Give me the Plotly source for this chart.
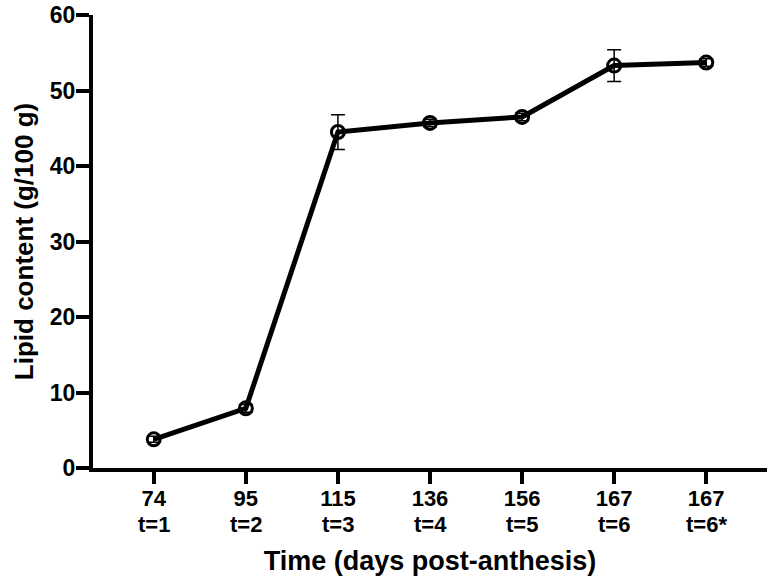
import plotly.graph_objects as go

days = ["74", "95", "115", "136", "156", "167", "167"]
stages = ["t=1", "t=2", "t=3", "t=4", "t=5", "t=6", "t=6*"]
lipid = [3.8, 7.9, 44.5, 45.7, 46.5, 53.3, 53.7]
err = [0.4, 0.5, 2.3, 0.5, 0.5, 2.1, 0.5]

cats = list(range(len(days)))

font_family = "Liberation Sans, Arial, sans-serif"

fig = go.Figure()
fig.add_trace(go.Scatter(
    x=cats, y=lipid,
    mode="lines+markers",
    line=dict(color="black", width=5),
    marker=dict(symbol="circle-open", size=13, color="black", line=dict(width=3, color="black")),
    error_y=dict(type="data", array=err, visible=True, color="black", thickness=1.5, width=7),
    showlegend=False,
))

# second line of category labels
for c, s in zip(cats, stages):
    fig.add_annotation(
        x=c, y=0, xref="x", yref="paper", text=s, showarrow=False,
        yanchor="middle", xanchor="center", yshift=-56,
        font=dict(size=22, family=font_family, weight="bold", color="black"),
    )

fig.update_layout(
    width=767, height=586,
    margin=dict(l=93, r=0, t=15, b=118),
    plot_bgcolor="white", paper_bgcolor="white",
    font=dict(family=font_family, color="black"),
)
fig.update_xaxes(
    range=[-0.66, 6.66], automargin=False,
    tickmode="array", tickvals=cats, ticktext=days,
    showline=True, linecolor="black", linewidth=4,
    ticks="outside", ticklen=12, tickwidth=4, tickcolor="black",
    ticklabelstandoff=-4,
    showgrid=False, zeroline=False,
    tickfont=dict(size=22, family=font_family, weight="bold"),
    title=dict(text="Time (days post-anthesis)", font=dict(size=27, family=font_family, weight="bold"), standoff=42),
)
fig.update_yaxes(
    range=[0, 60], tickvals=[0, 10, 20, 30, 40, 50, 60], automargin=False,
    showline=True, linecolor="black", linewidth=4,
    ticks="outside", ticklen=13, tickwidth=4, tickcolor="black",
    ticklabelstandoff=-4, ticklabeloverflow="allow",
    showgrid=False, zeroline=False,
    tickfont=dict(size=23, family=font_family, weight="bold"),
    title=dict(text="Lipid content (g/100 g)", font=dict(size=26, family=font_family, weight="bold"), standoff=10),
)

fig.write_html("out.html", config={"displayModeBar": False},
               post_script="document.body.style.margin='0px';")
